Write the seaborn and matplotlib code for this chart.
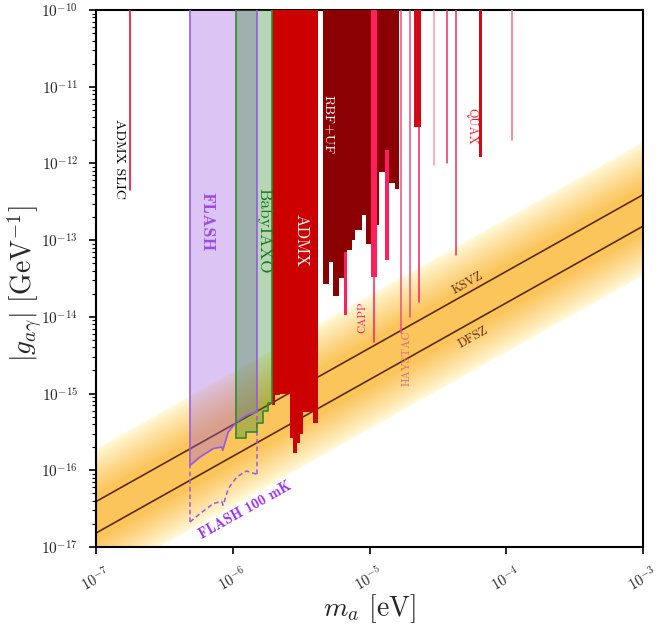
import numpy as np
import matplotlib
matplotlib.use("Agg")
import matplotlib.pyplot as plt
from matplotlib.ticker import LogLocator, NullLocator
import seaborn as sns

# --- values (axion mass in eV, coupling in GeV^-1) ---

# QCD axion benchmark lines, g = coeff * m_a
ksvz_coeff = 3.91e-10
dfsz_coeff = 1.52e-10
band_top = 5.0      # band edges as multiples of KSVZ
band_bottom = 0.09
line_mass = [1e-7, 1e-3]

# ADMX SLIC
slic_mass = 1.77e-7
slic_floor = 4.5e-13

# FLASH projections
flash_mass = [4.87e-7, 5.76e-7, 7.21e-7, 8.30e-7, 8.44e-7, 9.28e-7, 1.07e-6, 1.26e-6, 1.50e-6]
flash_g = [1.16e-16, 1.49e-16, 1.92e-16, 2.01e-16, 1.82e-16, 3.16e-16, 4.27e-16, 5.22e-16, 5.77e-16]
flash100_mass = [4.87e-7, 5.76e-7, 7.21e-7, 8.30e-7, 8.50e-7, 9.28e-7, 1.07e-6, 1.26e-6, 1.50e-6]
flash100_g = [2.12e-17, 2.72e-17, 3.68e-17, 3.94e-17, 3.50e-17, 5.78e-17, 8.18e-17, 9.80e-17, 8.87e-17]

# BabyIAXO (step edges, one value per step)
iaxo_edges = [1.05e-6, 1.25e-6, 1.50e-6, 1.67e-6, 1.82e-6, 1.95e-6]
iaxo_g = [2.6e-16, 3.2e-16, 4.1e-16, 6.0e-16, 7.6e-16]

# ADMX
admx_edges = [1.95e-6, 2.04e-6, 2.22e-6, 2.62e-6, 2.77e-6, 2.94e-6, 3.10e-6, 3.26e-6, 3.86e-6, 4.22e-6]
admx_g = [7.05e-16, 9.5e-16, 1.0e-15, 2.6e-16, 1.67e-16, 2.3e-16, 3.0e-16, 5.7e-16, 4.1e-16]

# RBF+UF
rbf_edges = [4.55e-6, 5.08e-6, 5.44e-6, 6.01e-6, 6.54e-6, 6.81e-6, 7.41e-6, 7.83e-6, 8.77e-6,
             9.38e-6, 1.026e-5, 1.13e-5, 1.18e-5, 1.30e-5, 1.39e-5, 1.54e-5, 1.64e-5]
rbf_g = [2.67e-14, 5.2e-14, 1.88e-14, 3.2e-14, 3.3e-14, 7.4e-14, 1.0e-13, 1.35e-13, 2.1e-13,
         8.9e-14, 1.35e-13, 1.57e-13, 7.8e-13, 5.5e-14, 5.5e-13, 4.7e-13]

# CAPP strips and lines
capp_lo = [6.55e-6, 1.026e-5, 1.30e-5]
capp_hi = [6.80e-6, 1.13e-5, 1.39e-5]
capp_top = [7.1e-14, 1e-10, 1.5e-12]
capp_floor = [1.05e-14, 3.3e-14, 5.5e-14]
capp_line_mass = [1.08e-5, 2.30e-5]
capp_line_floor = [4.7e-15, 1.57e-14]

# HAYSTAC
haystac_mass = [1.71e-5, 1.98e-5]
haystac_floor = [6.1e-15, 1.0e-14]

# other narrow red exclusions (QUAX etc.)
red_lo = [2.11e-5, 6.33e-5]
red_hi = [2.38e-5, 6.68e-5]
red_floor = [3.0e-12, 1.22e-12]
thin_mass = [2.98e-5, 3.67e-5, 4.29e-5, 1.10e-4]
thin_floor = [9.5e-13, 1.0e-12, 6.4e-14, 2.0e-12]
thin_colors = ["#f29aa8", "#e8305a", "#e8305a", "#e77080"]

G_TOP = 1e-10

sns.set_theme(style="ticks")
plt.rcParams["font.family"] = ["cmr10", "DejaVu Serif"]
plt.rcParams["mathtext.fontset"] = "cm"
plt.rcParams["axes.formatter.use_mathtext"] = True
plt.rcParams["axes.edgecolor"] = "black"

fig = plt.figure(figsize=(6.65, 6.28), dpi=100)
ax = fig.add_axes([96 / 665, 81 / 628, 547 / 665, 537 / 628])
ax.set_xscale("log")
ax.set_yscale("log")

# QCD axion band, drawn as nested layers to get the soft gradient
m = np.array(line_mass)
edge_col = np.array([255, 251, 222]) / 255
core_col = np.array([251, 197, 92]) / 255
centre = np.sqrt(ksvz_coeff * dfsz_coeff)
up = np.log10(ksvz_coeff * band_top / centre)
dn = np.log10(centre / (ksvz_coeff * band_bottom))
n_layers = 50
for i in range(n_layers):
    frac = 1 - i / n_layers
    t = np.clip((1 - frac) / 0.65, 0, 1) ** 0.85
    col = edge_col + (core_col - edge_col) * t
    ax.fill_between(m, centre * m * 10 ** (up * frac), centre * m * 10 ** (-dn * frac),
                    color=col, lw=0, zorder=1)

brown = "#5e2a10"
sns.lineplot(x=line_mass, y=[ksvz_coeff * v for v in line_mass], ax=ax, color=brown, lw=1.2, zorder=2)
sns.lineplot(x=line_mass, y=[dfsz_coeff * v for v in line_mass], ax=ax, color=brown, lw=1.2, zorder=2)

# ADMX SLIC
ax.plot([slic_mass, slic_mass], [slic_floor, G_TOP], color="#e0103a", lw=1.2, zorder=4)

# FLASH
purple = "#9b59e0"
ax.fill_between(flash_mass, flash_g, G_TOP, color=purple, alpha=0.35, lw=0, zorder=3)
ax.plot(flash_mass, flash_g, color=purple, lw=1.2, zorder=5)
ax.plot([flash_mass[0]] * 2, [flash_g[0], G_TOP], color=purple, lw=1.2, zorder=5)
ax.plot([flash_mass[-1]] * 2, [flash_g[-1], G_TOP], color=purple, lw=1.2, zorder=5)
ax.plot(flash100_mass, flash100_g, color=purple, lw=1.1, ls=(0, (3, 2)), zorder=5)
ax.plot([flash_mass[0]] * 2, [flash100_g[0], flash_g[0]], color=purple, lw=1.1, ls=(0, (3, 2)), zorder=5)
ax.plot([flash_mass[-1]] * 2, [flash100_g[-1], flash_g[-1]], color=purple, lw=1.1, ls=(0, (3, 2)), zorder=5)

# BabyIAXO
green = "#2e8b2e"
iaxo_y = iaxo_g + [iaxo_g[-1]]
ax.fill_between(iaxo_edges, iaxo_y, G_TOP, step="post", color=green, alpha=0.35, lw=0, zorder=3)
ax.step(iaxo_edges, iaxo_y, where="post", color=green, lw=1.2, zorder=5)
ax.plot([iaxo_edges[0]] * 2, [iaxo_g[0], G_TOP], color=green, lw=1.2, zorder=5)
ax.plot([iaxo_edges[-1]] * 2, [iaxo_g[-1], G_TOP], color=green, lw=1.2, zorder=5)

# ADMX
ax.fill_between(admx_edges, admx_g + [admx_g[-1]], G_TOP, step="post", color="#cc0000", lw=0, zorder=4)

# RBF+UF
ax.fill_between(rbf_edges, rbf_g + [rbf_g[-1]], G_TOP, step="post", color="#8b0000", lw=0, zorder=4)

# CAPP
pink = "#ff1f5e"
for lo, hi, top, flo in zip(capp_lo, capp_hi, capp_top, capp_floor):
    ax.fill_between([lo, hi], flo, top, color=pink, lw=0, zorder=5)
for mm, flo in zip(capp_line_mass, capp_line_floor):
    ax.plot([mm, mm], [flo, G_TOP], color=pink, lw=1.1, zorder=5)

# HAYSTAC
for mm, flo in zip(haystac_mass, haystac_floor):
    ax.plot([mm, mm], [flo, G_TOP], color="#e8507a", lw=1.1, zorder=5)

# narrow red strips and other lines
for lo, hi, flo in zip(red_lo, red_hi, red_floor):
    ax.fill_between([lo, hi], flo, G_TOP, color="#d00a14", lw=0, zorder=6)
for mm, flo, c in zip(thin_mass, thin_floor, thin_colors):
    ax.plot([mm, mm], [flo, G_TOP], color=c, lw=1.1, zorder=5)

# labels
slope = 29.3
ax.text(1.47e-7, 1.14e-12, "ADMX SLIC", rotation=270, color="black", fontsize=10,
        ha="center", va="center", zorder=10)
ax.text(6.48e-7, 1.72e-13, "FLASH", rotation=270, color="#9b4de0", fontsize=13,
        family=["cmb10", "DejaVu Serif"], ha="center", va="center", zorder=10)
ax.text(1.69e-6, 1.31e-13, "BabyIAXO", rotation=270, color="#1a7a1a", fontsize=12.5,
        ha="center", va="center", zorder=10)
ax.text(3.15e-6, 1.0e-13, "ADMX", rotation=270, color="white", fontsize=12,
        ha="center", va="center", zorder=10)
ax.text(4.97e-6, 3.16e-12, "RBF+UF", rotation=270, color="white", fontsize=10,
        ha="center", va="center", zorder=10)
ax.text(8.96e-6, 9.9e-15, "CAPP", rotation=90, color=pink, fontsize=8,
        ha="center", va="center", zorder=10)
ax.text(1.88e-5, 2.89e-15, "HAYSTAC", rotation=90, color="#d86a80", fontsize=8,
        ha="center", va="center", zorder=10)
ax.text(5.59e-5, 3.0e-12, "QUAX", rotation=270, color="#ee1c25", fontsize=8.8,
        ha="center", va="center", zorder=10)
ax.text(5.25e-5, 2.75e-14, "KSVZ", rotation=slope, color=brown, fontsize=9,
        ha="center", va="center", zorder=10)
ax.text(5.72e-5, 5.43e-15, "DFSZ", rotation=slope, color=brown, fontsize=9,
        ha="center", va="center", zorder=10)
ax.text(1.23e-6, 3.01e-17, "FLASH 100 mK", rotation=slope, color="#9b30f0", fontsize=10.5,
        family=["cmb10", "DejaVu Serif"], ha="center", va="center", zorder=10)

ax.set_xlim(1e-7, 1e-3)
ax.set_ylim(1e-17, 1e-10)
ax.xaxis.set_major_locator(LogLocator(base=10, numticks=10))
ax.xaxis.set_minor_locator(NullLocator())
ax.yaxis.set_major_locator(LogLocator(base=10, numticks=12))
ax.yaxis.set_minor_locator(LogLocator(base=10, subs=np.arange(2, 10), numticks=12))
ax.tick_params(axis="both", which="major", direction="out", length=5, width=1.2, color="black")
ax.tick_params(axis="y", which="minor", direction="out", length=3, width=0.8, color="black")
ax.tick_params(axis="x", labelsize=10.5, labelrotation=30, pad=7)
ax.tick_params(axis="y", labelsize=11, pad=8)
for s in ax.spines.values():
    s.set_linewidth(1.5)
    s.set_visible(True)

ax.set_xlabel(r"$m_a$ [eV]", fontsize=20)
ax.set_ylabel(r"$|g_{a\gamma}|$ [GeV$^{-1}$]", fontsize=20)
ax.yaxis.set_label_coords(-0.094, 0.49)
ax.xaxis.set_label_coords(0.5, -0.085)

fig.savefig("out.png", dpi=100)
